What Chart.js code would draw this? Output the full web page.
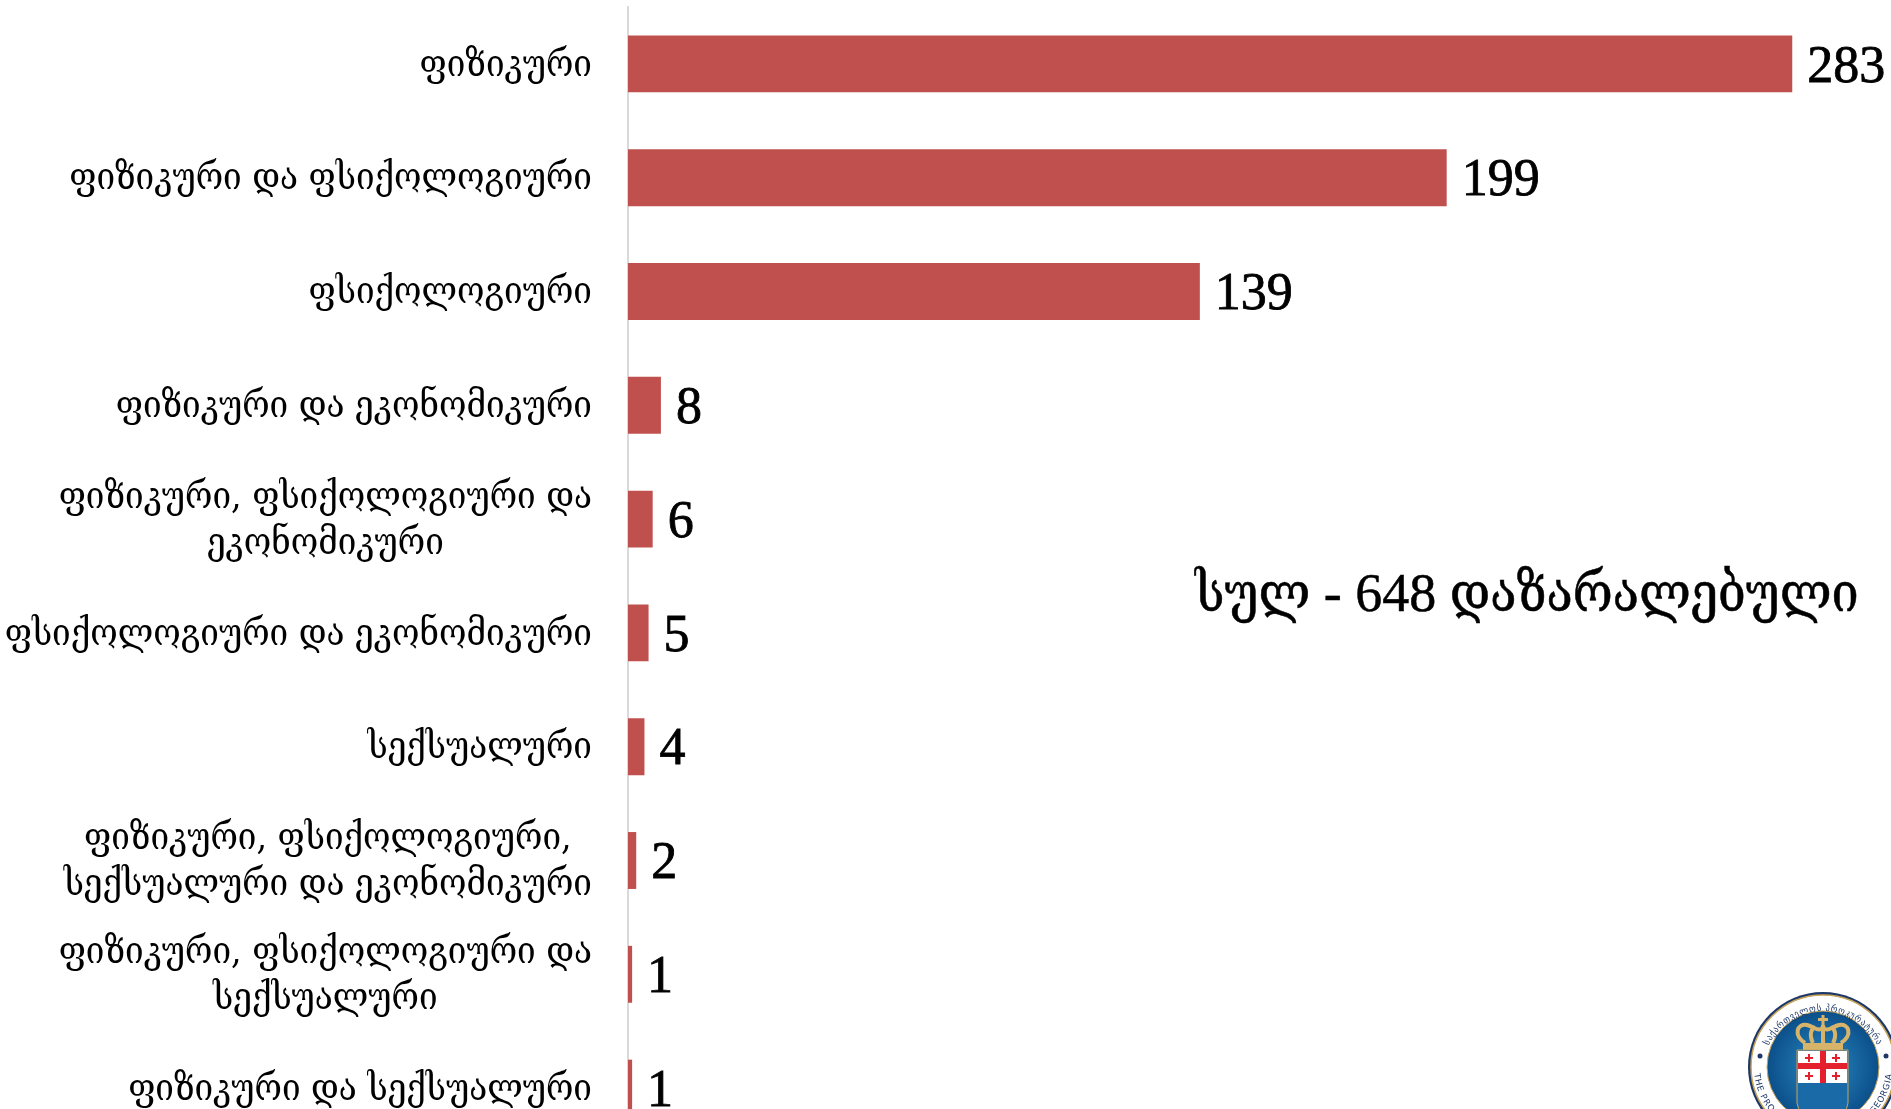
<!DOCTYPE html>
<html>
<head>
<meta charset="utf-8">
<style>
html, body { margin: 0; padding: 0; background: #fff; overflow: hidden; }
#wrap { position: relative; width: 1891px; height: 1109px; overflow: hidden; }
#chart { position: absolute; left: 0; top: 0; }
#total { position: absolute; left: 1195px; top: 562px; font: 54px "Liberation Serif", "DejaVu Serif Condensed", "DejaVu Serif", serif; line-height: 62px; color: #000; white-space: nowrap; -webkit-text-stroke: 0.5px #000; }
#logo { position: absolute; left: 1747px; top: 991px; }
</style>
<script src="https://cdn.jsdelivr.net/npm/chart.js@4"></script>
</head>
<body>
<div id="wrap">
  <canvas id="chart"></canvas>
  <div id="total">სულ - 648 დაზარალებული</div>
  <svg id="logo" width="152" height="152" viewBox="0 0 152 152">
    <defs>
      <radialGradient id="blue" cx="50%" cy="50%" r="50%">
        <stop offset="0%" stop-color="#2b8ac4"/>
        <stop offset="100%" stop-color="#0b4f8a"/>
      </radialGradient>
      <path id="topArc" d="M 16 80 A 60 60 0 0 1 136 80"/>
      <path id="bottomArc" d="M 7 76 A 69 69 0 0 0 145 76"/>
    </defs>
    <circle cx="76" cy="76" r="75" fill="#1d3768"/>
    <circle cx="76" cy="76" r="72" fill="#fff" stroke="#c9a45a" stroke-width="1.5"/>
    <circle cx="76" cy="76" r="56" fill="url(#blue)" stroke="#c9a45a" stroke-width="1"/>
    <circle cx="13" cy="65" r="2.5" fill="#1d3768"/>
    <circle cx="139" cy="65" r="2.5" fill="#1d3768"/>
    <text font-family="DejaVu Sans Condensed, DejaVu Sans" font-size="9.5" letter-spacing="0.6" fill="#1d3768"><textPath href="#topArc" startOffset="50%" text-anchor="middle">საქართველოს პროკურატურა</textPath></text>
    <text font-family="DejaVu Sans" font-size="8.5" letter-spacing="0.8" fill="#1d3768"><textPath href="#bottomArc" startOffset="50%" text-anchor="middle">THE PROSECUTOR'S OFFICE OF GEORGIA</textPath></text>
    <!-- crown -->
    <g fill="none" stroke="#d8b46a" stroke-width="4">
      <path d="M58 52 C46 44 50 32 60 34 C68 36 72 42 76 36 C80 42 84 36 92 34 C102 32 106 44 94 52"/>
      <path d="M66 52 C62 44 64 38 68 36"/>
      <path d="M76 52 V34"/>
      <path d="M86 52 C90 44 88 38 84 36"/>
    </g>
    <rect x="74.5" y="24" width="3" height="10" fill="#d8b46a"/>
    <rect x="71" y="27" width="10" height="3" fill="#d8b46a"/>
    <rect x="56" y="52" width="40" height="7" fill="#d8b46a"/>
    <!-- shield -->
    <path d="M50 59 H101 V112 Q101 124 76 132 Q50 124 50 112 Z" fill="#1a6aa8" stroke="#c9a45a"/>
    <rect x="51" y="60" width="49" height="32" fill="#fff"/>
    <rect x="73" y="60" width="6" height="32" fill="#e3202b"/>
    <rect x="51" y="72" width="49" height="6" fill="#e3202b"/>
    <path d="M61 63 h2 v3 h3 v2 h-3 v3 h-2 v-3 h-3 v-2 h3 Z" fill="#e3202b"/>
    <path d="M88 63 h2 v3 h3 v2 h-3 v3 h-2 v-3 h-3 v-2 h3 Z" fill="#e3202b"/>
    <path d="M61 81 h2 v3 h3 v2 h-3 v3 h-2 v-3 h-3 v-2 h3 Z" fill="#e3202b"/>
    <path d="M88 81 h2 v3 h3 v2 h-3 v3 h-2 v-3 h-3 v-2 h3 Z" fill="#e3202b"/>
  </svg>
</div>
<script>
const categories = [
    ['ფიზიკური'],
    ['ფიზიკური და ფსიქოლოგიური'],
    ['ფსიქოლოგიური'],
    ['ფიზიკური და ეკონომიკური'],
    ['ფიზიკური, ფსიქოლოგიური და', 'ეკონომიკური'],
    ['ფსიქოლოგიური და ეკონომიკური'],
    ['სექსუალური'],
    ['ფიზიკური, ფსიქოლოგიური,', 'სექსუალური და ეკონომიკური'],
    ['ფიზიკური, ფსიქოლოგიური და', 'სექსუალური'],
    ['ფიზიკური და სექსუალური']
];
const seriesValues = [283, 199, 139, 8, 6, 5, 4, 2, 1, 1];
const barColor = '#C0504D';
const labelFont = '37px "DejaVu Serif Condensed", "DejaVu Serif"';
const valueFont = '52px "Liberation Serif"';

const canvas = document.getElementById('chart');
canvas.width = 1891;
canvas.height = 1145;

new Chart(canvas, {
    type: 'bar',
    data: {
        labels: categories,
        datasets: [{ data: seriesValues, backgroundColor: barColor, barPercentage: 0.5, categoryPercentage: 1 }]
    },
    options: {
        indexAxis: 'y',
        responsive: false,
        animation: false,
        plugins: { legend: { display: false }, tooltip: { enabled: false } },
        layout: { padding: { top: 7 } },
        scales: {
            x: { display: false, min: 0, max: 307 },
            y: {
                grid: { display: false },
                border: { color: '#D9D9D9', width: 2 },
                afterFit: axis => { axis.width = 628; },
                ticks: { display: false }
            }
        }
    },
    plugins: [{
        // Multi-line labels are centred on their own block and right aligned as a block,
        // the normal ticks can't do that so they are drawn here.
        id: 'categoryLabels',
        afterDraw(chart) {
            const ctx = chart.ctx;
            const yScale = chart.scales.y;
            const lineHeight = 46;
            ctx.save();
            ctx.fillStyle = '#000';
            ctx.font = labelFont;
            ctx.textAlign = 'center';
            ctx.textBaseline = 'middle';
            categories.forEach((lines, i) => {
                const blockWidth = Math.max(...lines.map(line => ctx.measureText(line).width));
                const centerX = 592 - blockWidth / 2;
                const firstY = yScale.getPixelForTick(i) + 2 - (lines.length - 1) * lineHeight / 2;
                lines.forEach((line, j) => ctx.fillText(line, centerX, firstY + j * lineHeight));
            });
            ctx.restore();
        }
    }, {
        id: 'valueLabels',
        afterDatasetsDraw(chart) {
            const ctx = chart.ctx;
            ctx.save();
            ctx.fillStyle = '#000';
            ctx.strokeStyle = '#000';
            ctx.lineWidth = 0.8;
            ctx.font = valueFont;
            ctx.textBaseline = 'middle';
            chart.getDatasetMeta(0).data.forEach((bar, i) => {
                ctx.fillText(seriesValues[i], bar.x + 15, bar.y + 4);
                ctx.strokeText(seriesValues[i], bar.x + 15, bar.y + 4);
            });
            ctx.restore();
        }
    }]
});
</script>
</body>
</html>
